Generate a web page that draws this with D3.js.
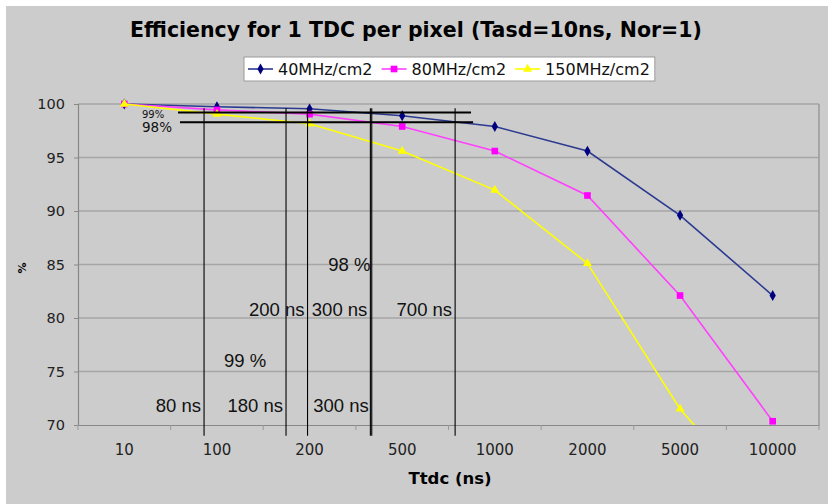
<!DOCTYPE html>
<html>
<head>
<meta charset="utf-8">
<script src="https://cdn.jsdelivr.net/npm/d3@7"></script>
<style>
  html, body { margin: 0; padding: 0; background: #ffffff; }
  svg { display: block; }
</style>
</head>
<body>
<svg id="chart" width="828" height="504"></svg>
<script>
// Readout periods (ns) along the category axis
const categories = [10, 100, 200, 500, 1000, 2000, 5000, 10000];

// Efficiency (%) for each hit rate
const seriesNames = ["40MHz/cm2", "80MHz/cm2", "150MHz/cm2"];
const eff40 = [100, 99.75, 99.55, 98.9, 97.9, 95.6, 89.6, 82.1];
const eff80 = [100, 99.45, 99.05, 97.9, 95.6, 91.45, 82.1, 70.35];
const eff150 = [100, 99.05, 98.15, 95.6, 91.95, 85.1, 71.5, 61.6];

const yTicks = [70, 75, 80, 85, 90, 95, 100];

// Threshold guides: readout period where each curve leaves 99 % / 98 %
const guide99Ns = [72.6, 167.7, 370];
const guide99Labels = ["80 ns", "180 ns", "300 ns"];
const guide98Ns = [197, 365, 743];
const guide98Labels = ["200 ns", "300 ns", "700 ns"];
const guideSpan = [99.6, 69];           // % range covered by the vertical guides
const level99 = { pct: 99.2, from: 38, to: 837 };
const level98 = { pct: 98.3, from: 39.9, to: 850 };

const svg = d3.select("#chart");
const W = 828, H = 504;
const m = { left: 78, right: 819, top: 104, bottom: 425 };

// Chart area
svg.append("rect").attr("x", 6).attr("y", 6).attr("width", W - 6).attr("height", H - 6)
  .attr("fill", "#cccccc");

const x = d3.scaleBand().domain(categories).range([m.left, m.right]).paddingInner(0).paddingOuter(0);
const y = d3.scaleLinear().domain([70, 100]).range([m.bottom, m.top]);
const cx = d => x(d) + x.bandwidth() / 2;

// Position of an arbitrary period on the category axis (log-interpolated between categories)
function xAt(ns) {
  let i = 0;
  while (i < categories.length - 2 && ns > categories[i + 1]) i++;
  const a = categories[i], b = categories[i + 1];
  const f = Math.log(ns / a) / Math.log(b / a);
  return cx(a) + f * x.step();
}

// Gridlines
svg.append("g").selectAll("line").data(yTicks.filter(t => t > 70)).join("line")
  .attr("x1", m.left).attr("x2", m.right)
  .attr("y1", d => y(d)).attr("y2", d => y(d))
  .attr("stroke", "#a6a6a6").attr("stroke-width", 1.5);

// Plot border on the right
svg.append("line").attr("x1", m.right).attr("x2", m.right).attr("y1", m.top).attr("y2", m.bottom)
  .attr("stroke", "#9a9a9a").attr("stroke-width", 1.5);

// Y axis
const yAxis = svg.append("g").attr("transform", `translate(${m.left},0)`)
  .call(d3.axisLeft(y).tickValues(yTicks).tickSize(4).tickPadding(9).tickFormat(d3.format("d")));
yAxis.select(".domain").attr("stroke", "#888888").attr("stroke-width", 1.2);
yAxis.selectAll(".tick line").attr("stroke", "#888888");
yAxis.selectAll("text").attr("font-family", "DejaVu Sans").attr("font-size", 14.5).attr("fill", "#222");

// X axis: category labels centred, tick marks on category boundaries
const xAxis = svg.append("g").attr("transform", `translate(0,${m.bottom})`)
  .call(d3.axisBottom(x).tickSize(0).tickPadding(19));
xAxis.select(".domain").attr("stroke", "#888888").attr("stroke-width", 1.2);
xAxis.selectAll("text").attr("font-family", "DejaVu Sans").attr("font-size", 15).attr("fill", "#222");
const bounds = categories.map(c => x(c)).concat([m.right]);
svg.append("g").selectAll("line").data(bounds).join("line")
  .attr("x1", d => d).attr("x2", d => d).attr("y1", m.bottom).attr("y2", m.bottom + 5)
  .attr("stroke", "#999999").attr("stroke-width", 1);

// Series
svg.append("clipPath").attr("id", "plotClip").append("rect")
  .attr("x", m.left).attr("y", m.top - 10).attr("width", m.right - m.left + 10).attr("height", m.bottom - m.top + 10);

const series = [
  { name: seriesNames[0], values: eff40, color: "#000080", line: "#2b3a90", shape: d3.symbolDiamond, size: 34 },
  { name: seriesNames[1], values: eff80, color: "#ff00ff", line: "#ff40ff", shape: d3.symbolSquare, size: 44 },
  { name: seriesNames[2], values: eff150, color: "#ffff00", line: "#ffff00", shape: d3.symbolTriangle, size: 36 }
];

const lineGen = d3.line().x((d, i) => cx(categories[i])).y(d => y(d));
const plot = svg.append("g").attr("clip-path", "url(#plotClip)");
series.forEach(s => {
  const g = plot.append("g");
  g.append("path").datum(s.values).attr("d", lineGen)
    .attr("fill", "none").attr("stroke", s.line).attr("stroke-width", 1.6);
  g.append("g").selectAll("path").data(s.values.filter(v => v >= 70)).join("path")
    .attr("transform", (d, i) => `translate(${cx(categories[i])},${y(d)})`)
    .attr("d", d3.symbol().type(s.shape).size(s.size))
    .attr("fill", s.color);
});

// Threshold guides
const guides = svg.append("g").attr("stroke", "#000").attr("stroke-width", 1.1);
guide99Ns.concat(guide98Ns).forEach(ns => {
  guides.append("line").attr("x1", xAt(ns)).attr("x2", xAt(ns))
    .attr("y1", y(guideSpan[0])).attr("y2", y(guideSpan[1]));
});
[level99, level98].forEach(l => {
  guides.append("line").attr("x1", xAt(l.from)).attr("x2", xAt(l.to))
    .attr("y1", y(l.pct)).attr("y2", y(l.pct)).attr("stroke-width", 2);
});
svg.append("text").attr("x", xAt(level99.from) - 36).attr("y", y(99.0)).attr("dy", "0.35em")
  .attr("font-family", "DejaVu Sans").attr("font-size", 10).attr("fill", "#111").text("99%");
svg.append("text").attr("x", xAt(level99.from) - 36).attr("y", y(97.8)).attr("dy", "0.35em")
  .attr("font-family", "DejaVu Sans").attr("font-size", 13.5).attr("fill", "#111").text("98%");

const note = (txt, xp, yp, anchor) => svg.append("text")
  .attr("x", xp).attr("y", y(yp)).attr("dy", "0.35em").attr("text-anchor", anchor)
  .attr("font-family", "Liberation Sans").attr("font-size", 18.5).attr("fill", "#111").text(txt);
guide99Ns.forEach((ns, i) => note(guide99Labels[i], xAt(ns) - 3, 71.8, "end"));
guide98Ns.forEach((ns, i) => note(guide98Labels[i], xAt(ns) - 3, 80.8, "end"));
note("99 %", (xAt(guide99Ns[0]) + xAt(guide99Ns[1])) / 2, 76, "middle");
note("98 %", xAt(guide98Ns[1]), 85, "end");

// Titles
svg.append("text").attr("x", 416).attr("y", 30).attr("dy", "0.35em").attr("text-anchor", "middle")
  .attr("font-family", "DejaVu Sans").attr("font-weight", "bold").attr("font-size", 20.5)
  .attr("fill", "#000").text("Efficiency for 1 TDC per pixel (Tasd=10ns, Nor=1)");
svg.append("text").attr("x", 450).attr("y", 478).attr("dy", "0.35em").attr("text-anchor", "middle")
  .attr("font-family", "DejaVu Sans").attr("font-weight", "bold").attr("font-size", 16.5)
  .attr("fill", "#000").text("Ttdc (ns)");
svg.append("text").attr("transform", "translate(22,268) rotate(-90)").attr("dy", "0.35em")
  .attr("text-anchor", "middle").attr("font-family", "DejaVu Sans").attr("font-weight", "bold")
  .attr("font-size", 11).attr("fill", "#000").text("%");

// Legend
const leg = svg.append("g");
const legBox = leg.append("rect").attr("x", 244).attr("y", 57).attr("height", 24)
  .attr("fill", "#ffffff").attr("stroke", "#9a9a9a").attr("stroke-width", 1);
let lx = 248;
series.forEach(s => {
  leg.append("line").attr("x1", lx).attr("x2", lx + 25).attr("y1", 69).attr("y2", 69)
    .attr("stroke", s.line).attr("stroke-width", 1.6);
  leg.append("path").attr("transform", `translate(${lx + 12.5},69)`)
    .attr("d", d3.symbol().type(s.shape).size(s.size)).attr("fill", s.color);
  const t = leg.append("text").attr("x", lx + 30).attr("y", 69).attr("dy", "0.35em")
    .attr("font-family", "DejaVu Sans").attr("font-size", 16).attr("fill", "#111").text(s.name);
  lx += 30 + t.node().getComputedTextLength() + 9;
});
legBox.attr("width", lx - 244 - 4);
</script>
</body>
</html>
